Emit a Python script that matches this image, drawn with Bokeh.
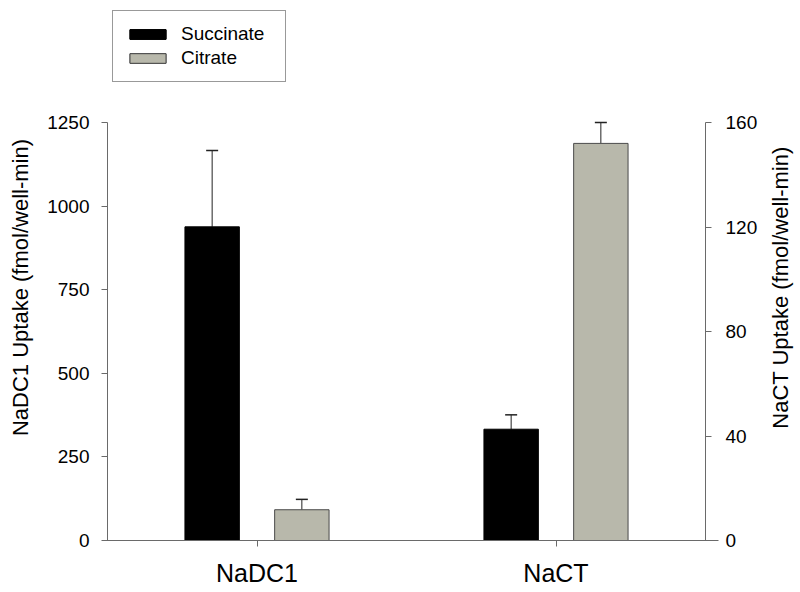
import math
from bokeh.plotting import figure
from bokeh.models import (ColumnDataSource, Range1d, LinearAxis, FixedTicker, Label,
                          Whisker, TeeHead, Legend, LegendItem)
from bokeh.embed import file_html
from bokeh.resources import INLINE

# ---- data ----
groups = ["NaDC1", "NaCT"]
group_pos = [1, 2]
series = ["Succinate", "Citrate"]
# NaDC1 values on left axis, NaCT values on right axis
succinate_values = [938, 42.6]
succinate_errors = [228, 5.5]
citrate_values = [92, 152]
citrate_errors = [31, 8]
group_axis = ["default", "right"]
left_ticks = [0, 250, 500, 750, 1000, 1250]
right_ticks = [0, 40, 80, 120, 160]
left_max = 1250
right_max = 160
left_label = "NaDC1 Uptake (fmol/well-min)"
right_label = "NaCT Uptake (fmol/well-min)"

FONT = "Liberation Sans"
AXIS_COLOR = "#6a6a6a"
colors = {"Succinate": "#000000", "Citrate": "#b8b8ab"}
outline = {"Succinate": "#000000", "Citrate": "#4a4a4a"}
offsets = {"Succinate": -0.15, "Citrate": 0.15}
BAR_W = 0.182

# ---- layout in page pixels ----
W, H = 800, 592
FRAME_TOP, AXIS_TOP, AXIS_BOTTOM = 10, 122, 540
LEFT_AXIS_X, RIGHT_AXIS_X = 107, 705
X_LO, X_HI = 0.5, 2.5                      # data x at the two y axes
ppu = (RIGHT_AXIS_X - LEFT_AXIS_X) / (X_HI - X_LO)
x_start = X_LO - LEFT_AXIS_X / ppu
x_end = X_HI + (W - RIGHT_AXIS_X) / ppu
span = AXIS_BOTTOM - AXIS_TOP
lo_frac = (H - AXIS_BOTTOM) / span
hi_frac = (AXIS_BOTTOM - FRAME_TOP) / span

def x_at(px):
    return x_start + px / ppu

def yl_at(py):
    return (AXIS_BOTTOM - py) / span * left_max

p = figure(width=W, height=H, x_range=Range1d(x_start, x_end),
           y_range=Range1d(-left_max * lo_frac, left_max * hi_frac),
           output_backend="svg", toolbar_location=None,
           min_border_left=0, min_border_right=0, min_border_top=FRAME_TOP,
           min_border_bottom=0)
p.extra_y_ranges = {"right": Range1d(-right_max * lo_frac, right_max * hi_frac)}
p.outline_line_color = None
p.grid.visible = False
p.background_fill_color = "white"
p.border_fill_color = "white"

values = {"Succinate": succinate_values, "Citrate": citrate_values}
errors = {"Succinate": succinate_errors, "Citrate": citrate_errors}
renderers = {s: [] for s in series}
for s in series:
    for i, g in enumerate(groups):
        src = ColumnDataSource(dict(x=[group_pos[i] + offsets[s]], value=[values[s][i]],
                                    upper=[values[s][i] + errors[s][i]]))
        r = p.vbar(x="x", top="value", bottom=0, width=BAR_W, source=src,
                   fill_color=colors[s], line_color=outline[s], line_width=1,
                   y_range_name=group_axis[i])
        renderers[s].append(r)
        w = Whisker(base="x", lower="value", upper="upper", source=src,
                    y_range_name=group_axis[i], line_color="#222222", line_width=1,
                    lower_head=None, upper_head=TeeHead(size=12, line_color="#222222", line_width=1.5))
        p.add_layout(w)

def style_axis(ax):
    ax.axis_line_color = AXIS_COLOR
    ax.major_tick_line_color = AXIS_COLOR
    ax.minor_tick_line_color = None
    ax.major_tick_in = 0
    ax.major_tick_out = 6
    ax.major_label_text_font = FONT
    ax.major_label_text_color = "#000000"

ly = p.yaxis[0]
style_axis(ly)
ly.ticker = FixedTicker(ticks=left_ticks)
ly.bounds = (0, left_max)
ly.fixed_location = X_LO
ly.major_label_text_font_size = "19px"
ly.major_label_standoff = 12

ry = LinearAxis(y_range_name="right", ticker=FixedTicker(ticks=right_ticks),
                bounds=(0, right_max), fixed_location=X_HI)
style_axis(ry)
ry.major_label_text_font_size = "19px"
ry.major_label_standoff = 14
p.add_layout(ry, "right")

xa = p.xaxis[0]
style_axis(xa)
xa.ticker = FixedTicker(ticks=group_pos)
xa.major_label_overrides = {pos: g for pos, g in zip(group_pos, groups)}
xa.bounds = (x_at(102), x_at(718))
xa.fixed_location = 0
xa.major_label_text_font_size = "25px"
xa.major_label_standoff = 12

# axis titles, both reading bottom-to-top as in the reference
for txt, cx in ((left_label, 20), (right_label, 780)):
    p.add_layout(Label(x=x_at(cx), y=yl_at(287), text=txt, angle=math.pi / 2,
                       text_align="center", text_baseline="middle",
                       text_font=FONT, text_font_size="22px", text_color="#000000"))

# legend box at page x 112..284, y 12..82
legend = Legend(items=[LegendItem(label=s, renderers=renderers[s]) for s in series],
                location=(112, H - 82), orientation="vertical",
                label_text_font=FONT, label_text_font_size="19px", label_text_color="#000000",
                glyph_width=45, glyph_height=12, label_standoff=11, label_height=22,
                label_width=92, spacing=2, padding=12, margin=0,
                border_line_color="#333333", border_line_width=1,
                background_fill_color="white", background_fill_alpha=1)
p.add_layout(legend, "center")

open("out.html", "w").write(file_html(p, INLINE))
